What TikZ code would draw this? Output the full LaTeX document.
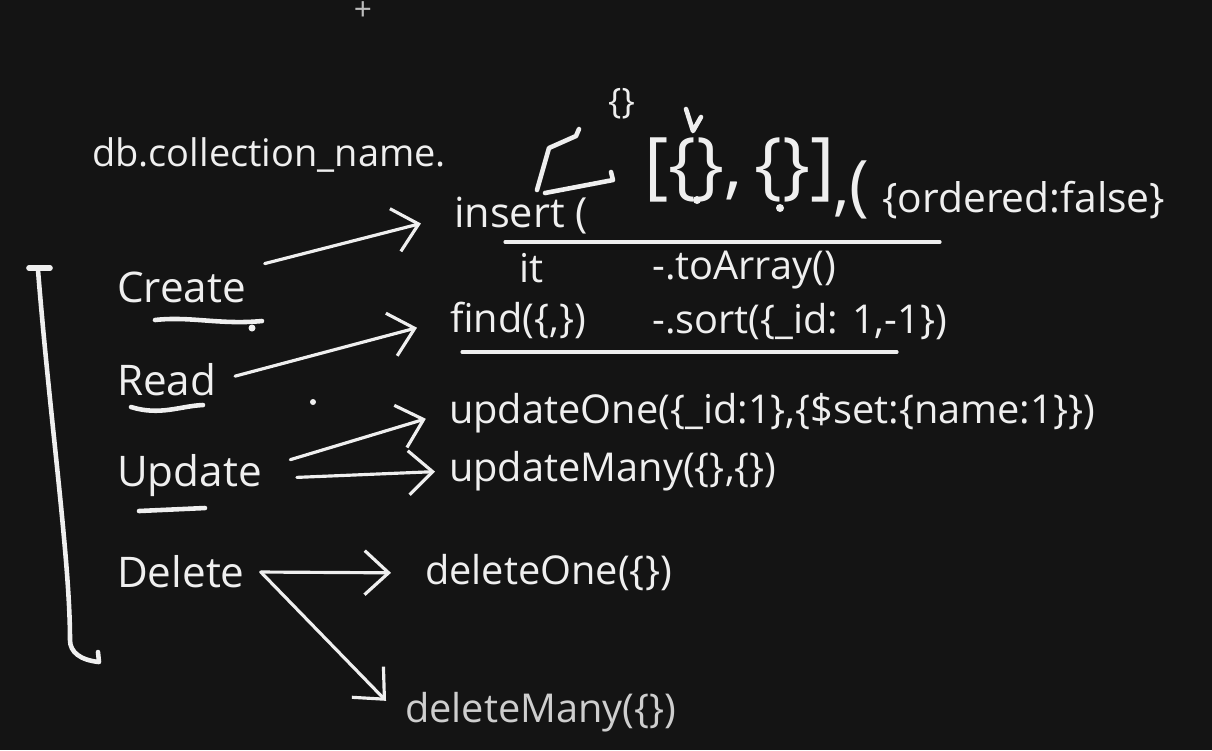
\documentclass[tikz,border=0pt]{standalone}
\usepackage{fontspec}
\setmainfont{Open Sans}
\usetikzlibrary{arrows.meta, positioning, calc}
\definecolor{boardbg}{HTML}{141414}
\definecolor{chalk}{HTML}{EFEFEF}
\definecolor{chalkgrey}{HTML}{BDBDBD}

\begin{document}
\begin{tikzpicture}[
    x=0.01cm, y=-0.01cm,
    op/.style     = {text=chalk, font=\fontsize{12}{15}\selectfont,
                     inner sep=1pt, anchor=west},
    code/.style   = {text=chalk, font=\fontsize{11.3}{14}\selectfont,
                     inner sep=1pt, anchor=west},
    stroke/.style = {draw=chalk, line width=1.3pt, line cap=round, line join=round},
    rule/.style   = {draw=chalk, line width=0.9pt, line cap=round},
    arr/.style    = {draw=chalk, line width=0.9pt, line cap=round,
                     -{Straight Barb[length=2.4mm, width=4.4mm, line width=0.9pt]},
                     shorten <=1.5mm, shorten >=3mm},
  ]

  %% Board
  \useasboundingbox (0,0) rectangle (1212,750);
  \fill[boardbg] (0,0) rectangle (1212,750);
  \node[text=chalkgrey, font=\small] (cursor) at (363,11) {+};

  %% Collection call
  \node[op, font=\fontsize{10.8}{13}\selectfont] (dbname) at (88,155) {db.collection\_name.};
  \node[op, font=\fontsize{11.8}{14}\selectfont] (insert) at (450,216) {insert (};
  \node[op, font=\fontsize{10}{12}\selectfont] (single) at (604,104) {\{\}};
  \node[op, font=\fontsize{21}{24}\selectfont] (array) at (640,170) {[\{\},\,\{\}]};
  \node[op, font=\fontsize{19}{22}\selectfont] (comma) at (829,190) {,(};
  \node[op, font=\fontsize{11.6}{14}\selectfont] (opts) at (878,200) {\{ordered:false\}};

  %% Single or many documents
  \draw[stroke] (537,190) -- (549,148) -- (576,136) -- (579,129);
  \draw[stroke] (545,193) -- (613,180) -- (611,172);
  \draw[stroke] (686,109) -- (693,131) -- (701,117);
  \fill[chalk] (697,200) circle (4) (780,208) circle (4);

  \draw[rule] (505,242) -- (940,242);

  %% Read helpers
  \node[code] (it)      at (515,268) {it};
  \node[code] (toarray) at (648,270) {-.toArray()};
  \node[code] (find)    at (446,320) {find(\{,\})};
  \node[code] (sort)    at (648,322) {-.sort(\{\_id: 1,-1\})};

  \draw[rule] (462,352) -- (897,352);

  %% Update / delete calls
  \node[code] (updone)  at (445,413) {updateOne(\{\_id:1\},\{\$set:\{name:1\}\})};
  \node[code, below=0.1cm of updone.south west, anchor=north west] (updmany) {updateMany(\{\},\{\})};
  \node[code] (delone)  at (421,573) {deleteOne(\{\})};
  \node[code, text=chalk!85!boardbg] (delmany) at (401,712) {deleteMany(\{\})};

  %% CRUD
  \node[op] (create) at (113,287) {Create};
  \node[op] (read)   at (113,380) {Read};
  \node[op] (update) at (113,476) {Update};
  \node[op] (delete) at (113,572) {Delete};
  \coordinate[right=0.12cm of delete.east] (fork);

  \draw[stroke] (155,320) .. controls (190,316) and (220,325) .. (262,321);
  \fill[chalk] (252,328) circle (3.5);
  \draw[stroke] (131,407) .. controls (160,416) and (180,406) .. (203,405);
  \draw[stroke] (139,511) -- (205,508);
  \fill[chalk] (313,402) circle (3);

  %% Bracket over all four
  \draw[stroke, line width=1.6pt] (29,268) -- (50,268);
  \draw[stroke] (38,270) .. controls (50,420) and (70,560) .. (70,640)
                .. controls (70,652) and (80,660) .. (99,662) -- (98,652);

  %% Arrows
  \draw[arr] (create.north east) -- (insert.west);
  \draw[arr] (read.east)         -- (find.west);
  \draw[arr, shorten >=2mm] ($(update.east)+(10,-12)$) -- (updone.west);
  \draw[arr, shorten >=1mm] ($(update.east)+(16,2)$)   -- (updmany.west);
  \draw[arr, shorten <=0mm] (fork) -- (delone.west);
  \draw[arr, shorten <=0mm, shorten >=1mm] (fork) -- ($(delmany.west)+(-8,-4)$);

\end{tikzpicture}
\end{document}
